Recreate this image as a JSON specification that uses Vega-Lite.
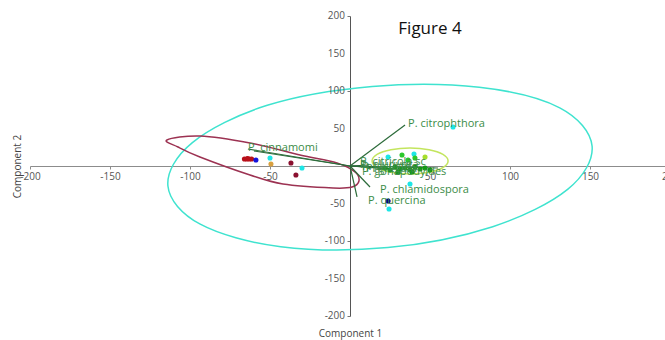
{
  "$schema": "https://vega.github.io/schema/vega-lite/v6.json",
  "width": 640,
  "height": 300,
  "autosize": {"type": "none"},
  "padding": {"left": 30, "top": 16, "right": 0, "bottom": 24},
  "config": {
    "view": {"stroke": null}, "font": "Open Sans",
    "axis": {"labelOverlap": false, "labelBound": false, "labelFlush": false}
  },
  "datasets": {
    "ellipses": [
      {"g": "E-all", "k": 0, "u": 151.3, "v": 26.7},
      {"g": "E-all", "k": 1, "u": 136.0, "v": -31.2},
      {"g": "E-all", "k": 2, "u": 89.2, "v": -80.9},
      {"g": "E-all", "k": 3, "u": 23.6, "v": -108.8},
      {"g": "E-all", "k": 4, "u": -43.3, "v": -107.6},
      {"g": "E-all", "k": 5, "u": -93.6, "v": -77.6},
      {"g": "E-all", "k": 6, "u": -113.8, "v": -26.7},
      {"g": "E-all", "k": 7, "u": -98.5, "v": 31.2},
      {"g": "E-all", "k": 8, "u": -51.7, "v": 80.9},
      {"g": "E-all", "k": 9, "u": 13.9, "v": 106.0},
      {"g": "E-all", "k": 10, "u": 80.8, "v": 105.0},
      {"g": "E-all", "k": 11, "u": 131.1, "v": 77.6},
      {"g": "E-cin", "k": 0, "u": -114.4, "v": 34.7},
      {"g": "E-cin", "k": 1, "u": -93.8, "v": 40.0},
      {"g": "E-cin", "k": 2, "u": -62.5, "v": 30.7},
      {"g": "E-cin", "k": 3, "u": -31.3, "v": 14.7},
      {"g": "E-cin", "k": 4, "u": -8.1, "v": 4.0},
      {"g": "E-cin", "k": 5, "u": 3.1, "v": -8.0},
      {"g": "E-cin", "k": 6, "u": 5.6, "v": -20.0},
      {"g": "E-cin", "k": 7, "u": 1.3, "v": -28.0},
      {"g": "E-cin", "k": 8, "u": -10.6, "v": -29.3},
      {"g": "E-cin", "k": 9, "u": -41.9, "v": -24.0},
      {"g": "E-cin", "k": 10, "u": -62.5, "v": -12.0},
      {"g": "E-cin", "k": 11, "u": -93.8, "v": 12.0},
      {"g": "E-cin", "k": 12, "u": -107.5, "v": 25.3},
      {"g": "E-grn", "k": 0, "u": 61.3, "v": 6.7},
      {"g": "E-grn", "k": 1, "u": 58.1, "v": 15.4},
      {"g": "E-grn", "k": 2, "u": 49.4, "v": 21.7},
      {"g": "E-grn", "k": 3, "u": 37.5, "v": 24.0},
      {"g": "E-grn", "k": 4, "u": 25.6, "v": 21.7},
      {"g": "E-grn", "k": 5, "u": 16.9, "v": 15.4},
      {"g": "E-grn", "k": 6, "u": 13.8, "v": 6.7},
      {"g": "E-grn", "k": 7, "u": 16.9, "v": -2.0},
      {"g": "E-grn", "k": 8, "u": 25.6, "v": -8.3},
      {"g": "E-grn", "k": 9, "u": 37.5, "v": -10.6},
      {"g": "E-grn", "k": 10, "u": 49.4, "v": -8.3},
      {"g": "E-grn", "k": 11, "u": 58.1, "v": -2.0}
    ],
    "loadings": [
      {"u": 34.4, "v": 54.7},
      {"u": -63.8, "v": 22.7},
      {"u": -60.0, "v": 20.0},
      {"u": 12.5, "v": -28.0},
      {"u": 4.4, "v": -41.3},
      {"u": 12.0, "v": 1.3},
      {"u": 25.0, "v": -4.0},
      {"u": 40.0, "v": -5.3},
      {"u": 55.0, "v": -2.7}
    ],
    "points": [
      {"g": "red", "u": -66.0, "v": 9.3},
      {"g": "red", "u": -64.5, "v": 9.3},
      {"g": "red", "u": -63.0, "v": 9.3},
      {"g": "red", "u": -61.5, "v": 9.3},
      {"g": "red", "u": -64.0, "v": 10.0},
      {"g": "blue", "u": -58.8, "v": 8.0},
      {"g": "orange", "u": -49.4, "v": 2.7},
      {"g": "cyan", "u": -50.0, "v": 10.7},
      {"g": "cyan", "u": -30.0, "v": -2.7},
      {"g": "cyan", "u": 23.8, "v": 12.0},
      {"g": "cyan", "u": 40.0, "v": 16.0},
      {"g": "cyan", "u": 37.5, "v": -24.0},
      {"g": "cyan", "u": 24.4, "v": -57.3},
      {"g": "cyan", "u": 64.4, "v": 52.0},
      {"g": "darkred", "u": -36.9, "v": 4.0},
      {"g": "darkred", "u": -33.8, "v": -12.0},
      {"g": "navy", "u": 23.8, "v": -46.7},
      {"g": "green", "u": 32.5, "v": 14.7},
      {"g": "green", "u": 36.3, "v": 8.0},
      {"g": "green", "u": 40.6, "v": 10.7},
      {"g": "yellowgreen", "u": 46.9, "v": 12.0},
      {"g": "darkgreen", "u": 21.9, "v": -2.7},
      {"g": "darkgreen", "u": 25.0, "v": -5.3},
      {"g": "darkgreen", "u": 28.1, "v": -1.3},
      {"g": "darkgreen", "u": 31.3, "v": -4.0},
      {"g": "darkgreen", "u": 34.4, "v": -2.7},
      {"g": "darkgreen", "u": 37.5, "v": -5.3},
      {"g": "darkgreen", "u": 40.6, "v": -1.3},
      {"g": "darkgreen", "u": 43.8, "v": -4.0},
      {"g": "darkgreen", "u": 46.9, "v": -2.7},
      {"g": "darkgreen", "u": 50.0, "v": -5.3},
      {"g": "darkgreen", "u": 30.0, "v": -8.0},
      {"g": "darkgreen", "u": 38.8, "v": -8.0}
    ],
    "labels": [
      {"t": "P. citrophthora", "u": 36.3, "v": 56.0},
      {"t": "P. cinnamomi", "u": -63.8, "v": 24.0},
      {"t": "P. chlamidospora", "u": 18.8, "v": -32.0},
      {"t": "P. quercina", "u": 11.3, "v": -46.7},
      {"t": "P. citricola sc", "u": 6.3, "v": 5.3},
      {"t": "P. gonapodyides", "u": 7.5, "v": -8.0},
      {"t": "P. lacustris", "u": 7.5, "v": -1.3},
      {"t": "P. plurivora", "u": 6.3, "v": 1.3},
      {"t": "P. gregata", "u": 10.0, "v": -4.0}
    ],
    "yticks": [
      {"v": 200, "t": "200"},
      {"v": 150, "t": "150"},
      {"v": 100, "t": "100"},
      {"v": 50, "t": "50"},
      {"v": -50, "t": "-50"},
      {"v": -100, "t": "-100"},
      {"v": -150, "t": "-150"},
      {"v": -200, "t": "-200"}
    ],
    "title": [{"t": "Figure 4", "u": 50.0, "v": 183.0}]
  },
  "layer": [
    {
      "data": {"name": "ellipses"},
      "mark": {"type": "line", "interpolate": "cardinal-closed", "strokeWidth": 1.5},
      "encoding": {
        "x": {
          "field": "u", "type": "quantitative",
          "scale": {"domain": [-200, 200], "nice": false, "zero": false},
          "axis": {
            "orient": "bottom", "offset": -150,
            "values": [-200, -150, -100, -50, 0, 50, 100, 150, 200],
            "labelExpr": "datum.value == 0 ? '' : '' + datum.value",
            "labelOverlap": false,
            "grid": false, "domainColor": "#8c8c8c", "tickColor": "#8c8c8c", "tickSize": 3,
            "labelColor": "#555555", "labelFontSize": 10, "labelFont": "Open Sans",
            "title": "Component 1", "titleX": 320, "titleY": 167, "titleBaseline": "middle",
            "titleFontSize": 10, "titleFontWeight": "normal", "titleColor": "#444444", "titleFont": "Open Sans"
          }
        },
        "y": {
          "field": "v", "type": "quantitative",
          "scale": {"domain": [-200, 200], "nice": false, "zero": false},
          "axis": {
            "orient": "left", "offset": -320,
            "values": [-200, -150, -100, -50, 0, 50, 100, 150, 200],
            "labels": false,
            "grid": false, "domainColor": "#555555", "tickColor": "#777777", "tickSize": 3,
            "title": "Component 2", "titleX": -333, "titleY": 150, "titleAngle": -90,
            "titleBaseline": "middle", "titleAlign": "center",
            "titleFontSize": 10, "titleFontWeight": "normal", "titleColor": "#444444", "titleFont": "Open Sans"
          }
        },
        "color": {
          "field": "g", "type": "nominal", "legend": null,
          "scale": {
            "domain": ["E-all", "E-cin", "E-grn", "red", "blue", "orange", "cyan", "darkred", "navy", "green", "yellowgreen", "darkgreen"],
            "range": ["#3fe3cf", "#9c3252", "#c3e55e", "#b8101a", "#1414dc", "#d9a040", "#1de6e6", "#8b1030", "#00008b", "#2cc82c", "#a6df2c", "#139a13"]
          }
        },
        "order": {"field": "k", "type": "quantitative"}
      }
    },
    {
      "data": {"name": "yticks"},
      "mark": {"type": "text", "align": "right", "baseline": "middle", "dx": -5, "fontSize": 10, "color": "#555555", "font": "Open Sans"},
      "encoding": {
        "x": {"datum": 0, "type": "quantitative"},
        "y": {"field": "v", "type": "quantitative"},
        "text": {"field": "t", "type": "nominal"}
      }
    },
    {
      "data": {"name": "loadings"},
      "mark": {"type": "rule", "color": "#2c6b3a", "strokeWidth": 1.2},
      "encoding": {
        "x": {"field": "u", "type": "quantitative"},
        "y": {"field": "v", "type": "quantitative"},
        "x2": {"datum": 0},
        "y2": {"datum": 0}
      }
    },
    {
      "data": {"name": "points"},
      "mark": {"type": "circle", "size": 26, "opacity": 1},
      "encoding": {
        "x": {"field": "u", "type": "quantitative"},
        "y": {"field": "v", "type": "quantitative"},
        "color": {
          "field": "g", "type": "nominal", "legend": null,
          "scale": {
            "domain": ["E-all", "E-cin", "E-grn", "red", "blue", "orange", "cyan", "darkred", "navy", "green", "yellowgreen", "darkgreen"],
            "range": ["#3fe3cf", "#9c3252", "#c3e55e", "#b8101a", "#1414dc", "#d9a040", "#1de6e6", "#8b1030", "#00008b", "#2cc82c", "#a6df2c", "#139a13"]
          }
        }
      }
    },
    {
      "data": {"name": "labels"},
      "mark": {"type": "text", "align": "left", "baseline": "middle", "fontSize": 11, "color": "#3b8c47", "font": "Open Sans"},
      "encoding": {
        "x": {"field": "u", "type": "quantitative"},
        "y": {"field": "v", "type": "quantitative"},
        "text": {"field": "t", "type": "nominal"}
      }
    },
    {
      "data": {"name": "title"},
      "mark": {"type": "text", "align": "center", "baseline": "middle", "fontSize": 17, "color": "#111111", "font": "Open Sans"},
      "encoding": {
        "x": {"field": "u", "type": "quantitative"},
        "y": {"field": "v", "type": "quantitative"},
        "text": {"field": "t", "type": "nominal"}
      }
    }
  ]
}
